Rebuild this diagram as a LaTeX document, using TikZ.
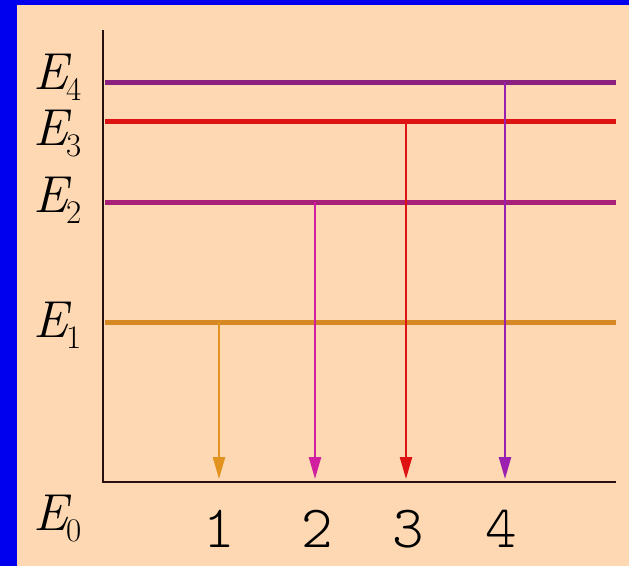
\documentclass[tikz,border=0pt]{standalone}
\usepackage{fontspec}
\newfontfamily\lightmono{Latin Modern Mono Light}
\usetikzlibrary{arrows.meta}
\definecolor{bgblue}{RGB}{0,0,238}
\definecolor{peach}{RGB}{253,216,178}
\definecolor{lvlpurple}{RGB}{140,32,128}
\definecolor{lvlred}{RGB}{222,18,18}
\definecolor{lvlmag}{RGB}{168,32,120}
\definecolor{lvlorange}{RGB}{214,136,36}
\definecolor{arrmag}{RGB}{208,32,160}
\definecolor{arrpurple}{RGB}{156,32,176}
\definecolor{arrorange}{RGB}{226,146,30}
\definecolor{axiscol}{RGB}{40,16,16}
\newcommand{\Elev}[1]{{\fontsize{52}{60}\selectfont\itshape E}\kern-1.5pt\raisebox{-11pt}{\fontsize{33}{38}\selectfont #1}}
\begin{document}
\begin{tikzpicture}[x=1pt,y=-1pt,
  level/.style={line width=5pt},
  trans/.style={line width=2.4pt,-{Triangle[width=12pt,length=22pt]}},
  axisline/.style={axiscol,line width=2.6pt},
  elabel/.style={anchor=base west,inner sep=0pt},
  num/.style={anchor=base,inner sep=0pt,font=\fontsize{60}{70}\selectfont\lightmono}]
\fill[bgblue] (0,0) rectangle (629,566);
\fill[peach] (17,5) rectangle (629,566);
\useasboundingbox (0,0) rectangle (629,566);
% axes
\coordinate (T) at (103,30);
\coordinate (O) at (103,482);
\coordinate (X) at (616,482);
\draw[axisline] (T) -- (O) -- (X);
% levels
\coordinate (L4a) at (105,82);  \coordinate (L4b) at (616,82);
\coordinate (L3a) at (105,121); \coordinate (L3b) at (616,121);
\coordinate (L2a) at (105,202); \coordinate (L2b) at (616,202);
\coordinate (L1a) at (105,322); \coordinate (L1b) at (616,322);
\draw[level,lvlpurple] (L4a) -- (L4b);
\draw[level,lvlred] (L3a) -- (L3b);
\draw[level,lvlmag] (L2a) -- (L2b);
\draw[level,lvlorange] (L1a) -- (L1b);
% transitions
\coordinate (t1s) at (219,322); \coordinate (t1e) at (219,479);
\coordinate (t2s) at (315,202); \coordinate (t2e) at (315,479);
\coordinate (t3s) at (406,121); \coordinate (t3e) at (406,479);
\coordinate (t4s) at (505,82);  \coordinate (t4e) at (505,479);
\draw[trans,arrorange] (t1s) -- (t1e);
\draw[trans,arrmag] (t2s) -- (t2e);
\draw[trans,lvlred] (t3s) -- (t3e);
\draw[trans,arrpurple] (t4s) -- (t4e);
% energy labels
\node[elabel] (e4) at (33,89) {\Elev{4}};
\node[elabel] (e3) at (33,145) {\Elev{3}};
\node[elabel] (e2) at (33,212) {\Elev{2}};
\node[elabel] (e1) at (33,337) {\Elev{1}};
\node[elabel] (e0) at (33,530) {\Elev{0}};
% transition numbers
\node[num] (n1) at (219,547) {1};
\node[num] (n2) at (317,547) {2};
\node[num] (n3) at (408,547) {3};
\node[num] (n4) at (501,547) {4};
\end{tikzpicture}
\end{document}
